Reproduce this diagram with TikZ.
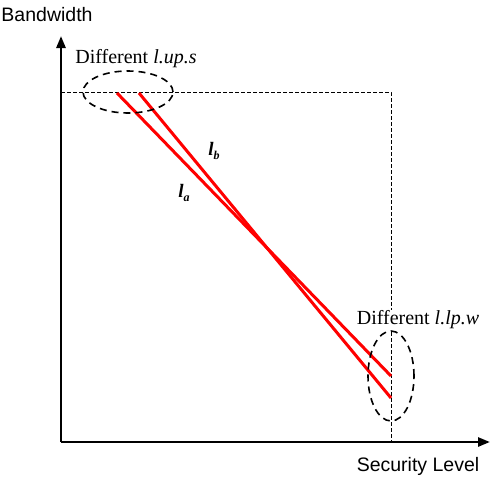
\documentclass[tikz,border=0pt]{standalone}
\usepackage{fontspec}
\setmainfont{Liberation Serif}
\setsansfont{Liberation Sans}
\usetikzlibrary{arrows.meta,shapes.geometric}

\begin{document}
\begin{tikzpicture}[x=1pt,y=-1pt,
  axis/.style={line width=2.6pt,-{Triangle[length=12pt,width=9pt]}},
  guide/.style={line width=0.8pt,dash pattern=on 3.5pt off 2.5pt},
  ring/.style={ellipse,draw,line width=1.6pt,dash pattern=on 7pt off 5pt,inner sep=0pt},
  link/.style={red,line width=3pt},
  tag/.style={font=\fontsize{20}{24}\selectfont,inner sep=1pt},
  lname/.style={font=\fontsize{19}{22}\selectfont\bfseries\itshape,inner sep=1pt},
  ]
\useasboundingbox (0,0) rectangle (490,483);

% axes
\coordinate (O) at (61,442);
\coordinate (ytip) at (61,36);
\coordinate (xtip) at (490,442);
\draw[axis] (O) -- (ytip);
\draw[axis] (O) -- (xtip);
\node[tag,font=\sffamily\fontsize{19.5}{24}\selectfont] (bw) at (47,15) {Bandwidth};
\node[tag,font=\sffamily\fontsize{19.5}{24}\selectfont] (sl) at (418,466) {Security Level};

% upper and lower bounds
\coordinate (ymax) at (61,92);
\coordinate (corner) at (391,92);
\coordinate (xmax) at (391,442);
\draw[guide] (ymax) -- (corner) -- (xmax);

% the two lines
\coordinate (a1) at (117,93);
\coordinate (a2) at (391,376);
\coordinate (b1) at (139,93);
\coordinate (b2) at (391,398);
\draw[link] (a1) -- (a2);
\draw[link] (b1) -- (b2);
\node[lname] (lb) at (214,151) {l\raisebox{-4pt}{\fontsize{12}{14}\selectfont b}};
\node[lname] (la) at (184,193) {l\raisebox{-4pt}{\fontsize{12}{14}\selectfont a}};

% spread at both ends
\node[ring,minimum width=90pt,minimum height=42pt] (ups) at (128,92) {};
\node[ring,minimum width=46pt,minimum height=90pt] (lpw) at (391,376) {};
\node[tag] (upstxt) at (136,59) {Different \textit{l.up.s}};
\node[tag,fill=white] (lpwtxt) at (418,320) {Different \textit{l.lp.w}};
\end{tikzpicture}
\end{document}
